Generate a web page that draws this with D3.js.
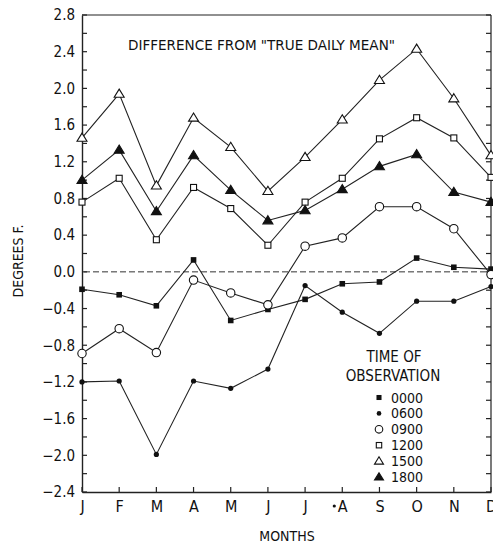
<!DOCTYPE html>
<html><head><meta charset="utf-8">
<script src="https://cdn.jsdelivr.net/npm/d3@7"></script>
<style>
html,body{margin:0;padding:0;background:#fff;}
svg{display:block;}
text{font-family:"DejaVu Sans Condensed","Liberation Sans Narrow",sans-serif;font-stretch:condensed;fill:#111;}
</style></head>
<body>
<script>
const months = ["J","F","M","A","M","J","J","A","S","O","N","D"];
const yTicks = [2.8,2.4,2.0,1.6,1.2,0.8,0.4,0.0,-0.4,-0.8,-1.2,-1.6,-2.0,-2.4];
const s0000 = [-0.19,-0.25,-0.37,0.13,-0.53,-0.41,-0.30,-0.13,-0.11,0.15,0.05,0.03];
const s0600 = [-1.20,-1.19,-1.99,-1.19,-1.27,-1.06,-0.15,-0.44,-0.67,-0.32,-0.32,-0.16];
const s0900 = [-0.89,-0.62,-0.88,-0.09,-0.23,-0.36,0.28,0.37,0.71,0.71,0.47,-0.03];
const s1200 = [0.76,1.02,0.35,0.92,0.69,0.29,0.76,1.02,1.45,1.68,1.46,1.03];
const s1500 = [1.46,1.94,0.94,1.68,1.36,0.88,1.25,1.66,2.09,2.43,1.89,1.27];
const s1800 = [1.00,1.33,0.66,1.27,0.89,0.56,0.67,0.90,1.15,1.28,0.87,0.76];
const seriesNames = ["0000","0600","0900","1200","1500","1800"];
const seriesData = [s0000,s0600,s0900,s1200,s1500,s1800];
const symbols = ["fsquare","dot","circle","square","triangle","ftriangle"];

const W=493,H=544;
const FF='"DejaVu Sans Condensed","Liberation Sans Narrow",sans-serif';
const svg=d3.select("body").append("svg").attr("width",W).attr("height",H);
const L=82,R=491,T=15,B=492;
const x=d3.scaleLinear().domain([0,11]).range([L,R]);
const y=d3.scaleLinear().domain([-2.4,2.8]).range([B,T]);

// frame
svg.append("line").attr("x1",L).attr("x2",R).attr("y1",T).attr("y2",T).attr("stroke","#222").attr("stroke-width",1.2);
svg.append("line").attr("x1",R).attr("x2",R).attr("y1",T).attr("y2",B).attr("stroke","#222").attr("stroke-width",1.2);

// left axis
const gl=svg.append("g").attr("transform",`translate(${L},0)`);
gl.call(d3.axisLeft(y).tickValues(yTicks).tickSize(0).tickPadding(7).tickFormat(d3.format(".1f")));
gl.select(".domain").attr("stroke","#222").attr("stroke-width",1.4);
gl.selectAll("text").attr("font-size",15).style("font-family",FF).attr("fill","#111");
const minor=d3.range(-2.4,2.81,0.2);
gl.selectAll("line.mt").data(minor).enter().append("line").attr("class","mt")
  .attr("x1",0).attr("x2",5).attr("y1",d=>y(d)).attr("y2",d=>y(d)).attr("stroke","#222").attr("stroke-width",1.2);
// right axis ticks
svg.selectAll("line.rt").data(minor).enter().append("line").attr("class","rt")
  .attr("x1",R-5).attr("x2",R).attr("y1",d=>y(d)).attr("y2",d=>y(d)).attr("stroke","#222").attr("stroke-width",1.2);

// bottom axis
const gb=svg.append("g").attr("transform",`translate(0,${B})`);
gb.call(d3.axisBottom(x).tickValues(d3.range(12)).tickSize(0).tickPadding(9).tickFormat(i=>months[i]));
gb.select(".domain").attr("stroke","#222").attr("stroke-width",1.4);
gb.selectAll("text").attr("font-size",16).style("font-family",FF).attr("fill","#111");
gb.selectAll("line.bt").data(d3.range(12)).enter().append("line").attr("class","bt")
  .attr("x1",d=>x(d)).attr("x2",d=>x(d)).attr("y1",0).attr("y2",-5).attr("stroke","#222").attr("stroke-width",1.2);
// scan dot before August label
svg.append("circle").attr("cx",x(7)-8).attr("cy",B+14).attr("r",1.6).attr("fill","#111");

// zero line
svg.append("line").attr("x1",L+2).attr("x2",R).attr("y1",y(0)).attr("y2",y(0))
  .attr("stroke","#333").attr("stroke-width",1).attr("stroke-dasharray","6,3");

// lines
const line=d3.line().x((d,i)=>x(i)).y(d=>y(d));
seriesData.forEach(s=>{
  svg.append("path").attr("d",line(s)).attr("fill","none").attr("stroke","#222").attr("stroke-width",1.1);
});

function drawSym(g,type,cx,cy,sc){
  sc=sc||1;
  if(type==="fsquare") g.append("rect").attr("x",cx-2.8*sc).attr("y",cy-2.8*sc).attr("width",5.6*sc).attr("height",5.6*sc).attr("fill","#111");
  else if(type==="dot") g.append("circle").attr("cx",cx).attr("cy",cy).attr("r",2.6*sc).attr("fill","#111");
  else if(type==="circle") g.append("circle").attr("cx",cx).attr("cy",cy).attr("r",4.2*sc).attr("fill","#fff").attr("stroke","#111").attr("stroke-width",1.1);
  else if(type==="square") g.append("rect").attr("x",cx-3*sc).attr("y",cy-3*sc).attr("width",6*sc).attr("height",6*sc).attr("fill","#fff").attr("stroke","#111").attr("stroke-width",1.1);
  else if(type==="triangle"||type==="ftriangle"){
    const h=4.8*sc, w=5*sc;
    g.append("path").attr("d",`M${cx},${cy-h}L${cx+w},${cy+h*0.7}L${cx-w},${cy+h*0.7}Z`)
      .attr("fill",type==="triangle"?"#fff":"#111").attr("stroke","#111").attr("stroke-width",1.1);
  }
}
const gs=svg.append("g");
seriesData.forEach((s,k)=>{
  s.forEach((v,i)=>drawSym(gs,symbols[k],x(i),y(v)));
});

// title
svg.append("text").attr("x",128).attr("y",50).attr("font-size",14).attr("textLength",267).attr("lengthAdjust","spacingAndGlyphs")
  .text('DIFFERENCE FROM "TRUE DAILY MEAN"');

// axis titles
svg.append("text").attr("transform","translate(23,261) rotate(-90)").attr("text-anchor","middle").attr("font-size",14).text("DEGREES F.");
svg.append("text").attr("x",287).attr("y",541).attr("text-anchor","middle").attr("font-size",14).text("MONTHS");

// legend
svg.append("text").attr("x",394).attr("y",362).attr("text-anchor","middle").attr("font-size",15).text("TIME OF");
svg.append("text").attr("x",393).attr("y",381).attr("text-anchor","middle").attr("font-size",15).text("OBSERVATION");
const lg=svg.append("g");
seriesNames.forEach((n,k)=>{
  const cy=397.5+k*15.9;
  drawSym(lg,symbols[k],379,cy,0.9);
  lg.append("text").attr("x",391).attr("y",cy+5).attr("font-size",14).text(n);
});
</script>
</body></html>
